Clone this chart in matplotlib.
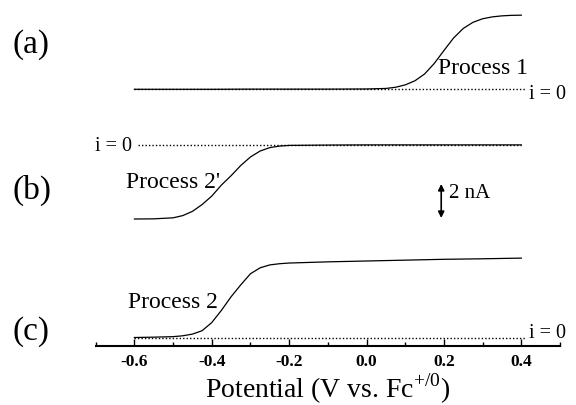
import matplotlib
matplotlib.use("Agg")
import matplotlib.pyplot as plt
from matplotlib.ticker import MultipleLocator

plt.rcParams['font.family'] = ['Liberation Serif', 'DejaVu Serif']
plt.rcParams['mathtext.fontset'] = 'custom'
plt.rcParams['mathtext.rm'] = 'Liberation Serif'

# Potential (V vs. Fc+/0) and current (nA) for each voltammogram
pot_a = [-0.6, -0.5, -0.4, -0.3, -0.2, -0.1, 0.0, 0.05, 0.075, 0.1, 0.125, 0.15, 0.175,
         0.2, 0.225, 0.25, 0.275, 0.3, 0.325, 0.35, 0.375, 0.4]
cur_a = [0.0, 0.0, 0.0, 0.01, 0.01, 0.01, 0.02, 0.05, 0.12, 0.26, 0.50, 0.90, 1.52,
         2.28, 3.02, 3.58, 3.94, 4.15, 4.26, 4.32, 4.35, 4.36]

pot_b = [-0.6, -0.55, -0.5, -0.475, -0.45, -0.425, -0.4, -0.375, -0.35, -0.325, -0.3,
         -0.275, -0.25, -0.225, -0.2, -0.1, 0.0, 0.1, 0.2, 0.3, 0.4]
cur_b = [-4.35, -4.34, -4.28, -4.15, -3.90, -3.50, -3.00, -2.35, -1.80, -1.20, -0.70,
         -0.35, -0.15, -0.06, -0.02, 0.0, 0.01, 0.01, 0.01, 0.01, 0.01]

pot_c = [-0.6, -0.55, -0.5, -0.475, -0.45, -0.425, -0.4, -0.375, -0.35, -0.325, -0.3,
         -0.275, -0.25, -0.225, -0.2, -0.1, 0.0, 0.1, 0.2, 0.3, 0.4]
cur_c = [0.0, 0.02, 0.05, 0.10, 0.20, 0.40, 0.88, 1.60, 2.40, 3.10, 3.75,
         4.10, 4.27, 4.34, 4.38, 4.45, 4.50, 4.55, 4.60, 4.63, 4.67]

panel_labels = ["(a)", "(b)", "(c)"]
process_labels = ["Process 1", "Process 2'", "Process 2"]
zero_label = "i = 0"
scale_label = "2 nA"
scale_nA = 2.0
xticks = [-0.6, -0.4, -0.2, 0.0, 0.2, 0.4]
xlabel = "Potential (V vs. Fc$^{+/0}$)"

# vertical offsets (nA) of each trace's zero line on the stacked plot
off_a, off_b, off_c = 15.1, 11.82, 0.5

W, H = 576, 406
fig = plt.figure(figsize=(W / 100, H / 100), dpi=100)
ax = fig.add_axes([95.7 / W, 59 / H, (560 - 95.7) / W, 347 / H])
ax.set_xlim(-0.7, 0.5)
ax.set_ylim(0, 347 / 17.0)

for s in ['left', 'right', 'top']:
    ax.spines[s].set_visible(False)
ax.spines['bottom'].set_linewidth(1.5)
ax.yaxis.set_visible(False)
ax.set_xticks(xticks)
ax.set_xticklabels([f"{t:.1f}" for t in xticks], fontweight='bold', fontsize=12.5)
ax.xaxis.set_minor_locator(MultipleLocator(0.1))
ax.tick_params(axis='x', which='major', direction='in', length=5, width=1.0, pad=5)
ax.tick_params(axis='x', which='minor', direction='in', length=3, width=1.0)
ax.set_xlabel(xlabel, fontsize=20, labelpad=1)

lw = 0.9
ax.plot(pot_a, [v + off_a for v in cur_a], color='black', lw=lw)
ax.plot(pot_b, [v + off_b for v in cur_b], color='black', lw=lw)
ax.plot(pot_c, [v + off_c for v in cur_c], color='black', lw=lw)

dot = dict(color='black', lw=1.0, ls=(0, (1, 1.5)))
ax.plot([-0.6, 0.41], [off_a, off_a], **dot)
ax.plot([-0.59, 0.4], [off_b, off_b], **dot)
ax.plot([-0.6, 0.41], [off_c, off_c], **dot)

ax.text(0.42, off_a - 0.25, zero_label, fontsize=14.5, ha='left', va='center')
ax.text(-0.605, off_b, zero_label, fontsize=14.5, ha='right', va='center')
ax.text(0.42, off_c + 0.3, zero_label, fontsize=14.5, ha='left', va='center')

ax.text(0.184, 16.4, process_labels[0], fontsize=17, ha='left', va='center')
ax.text(-0.621, 9.65, process_labels[1], fontsize=17, ha='left', va='center')
ax.text(-0.616, 2.59, process_labels[2], fontsize=17, ha='left', va='center')

ax.annotate('', xy=(0.193, 9.53 - scale_nA), xytext=(0.193, 9.53),
            arrowprops=dict(arrowstyle='<|-|>', color='black', lw=1.2,
                            mutation_scale=9, shrinkA=0, shrinkB=0))
ax.text(0.213, 9.0, scale_label, fontsize=15, ha='left', va='center')

for lab, yc in zip(panel_labels, [45, 190, 332]):
    fig.text(12 / W, 1 - yc / H, lab, fontsize=24, ha='left', va='center')

fig.savefig("out.png", dpi=100)
